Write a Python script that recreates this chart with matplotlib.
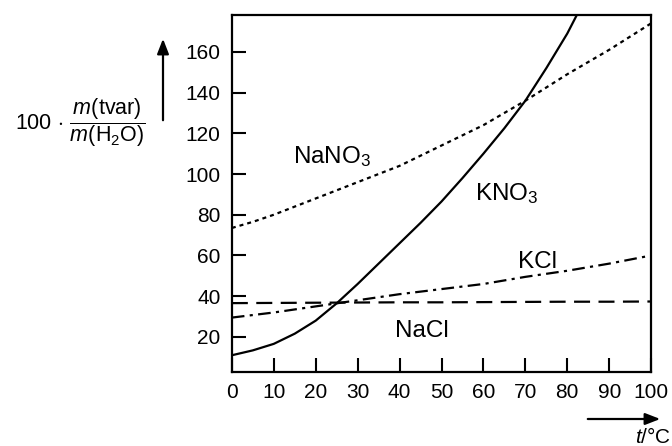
import numpy as np
import matplotlib.pyplot as plt

plt.rcParams['font.family'] = ['Liberation Sans', 'DejaVu Sans']
plt.rcParams['mathtext.fontset'] = 'custom'
plt.rcParams['mathtext.rm'] = 'Liberation Sans'
plt.rcParams['mathtext.it'] = 'Liberation Sans:italic'

# temperature in deg C
t5 = [0, 5, 10, 15, 20, 25, 30, 35, 40, 45, 50, 55, 60, 65, 70, 75, 80, 85, 90, 95, 100]
t10 = [0, 10, 20, 30, 40, 50, 60, 70, 80, 90, 100]

# solubility, g per 100 g water
kno3 = [11, 13.4, 16.6, 21.6, 28, 36.5, 46, 56, 66, 76, 86.5, 98, 110, 122.5, 136, 152, 169, 189, 210, 232, 255]
nano3 = [73.5, 76.5, 80, 84, 88, 92, 96, 100, 104, 109, 114, 119, 124, 130, 136, 142.5, 149, 155, 161, 167.5, 174]
kcl = [29.5, 32, 35, 38, 41, 43.5, 46, 49.5, 52.5, 56, 60]
nacl = [36.6, 36.7, 36.8, 36.9, 37.0, 37.0, 37.1, 37.2, 37.3, 37.3, 37.4]

fig = plt.figure(figsize=(6.72, 4.46), dpi=100)
ax = fig.add_axes([0.345, 0.166, 0.624, 0.800])

ax.plot(t5, kno3, color='black', lw=1.6, solid_joinstyle='round')
ax.plot(t5, nano3, color='black', lw=1.6, linestyle=(0, (1.8, 1.8)))
ax.plot(t10, kcl, color='black', lw=1.6, linestyle=(0, (5.7, 2.4, 1.4, 2.4)))
ax.plot(t10, nacl, color='black', lw=1.6, linestyle=(0, (7.2, 3.8)))

ax.set_xlim(0, 100)
ax.set_ylim(2.8, 178)
ax.set_xticks(np.arange(0, 101, 10))
ax.set_yticks(np.arange(20, 161, 20))
ax.tick_params(direction='in', length=10, width=1.5, labelsize=15, pad=8,
               top=False, right=False)
for s in ax.spines.values():
    s.set_linewidth(1.6)

fs = 17.5
ax.text(14.5, 105.5, 'NaNO$_3$', fontsize=fs)
ax.text(58, 87, 'KNO$_3$', fontsize=fs)
ax.text(68.3, 54, 'KCl', fontsize=fs)
ax.text(38.9, 20, 'NaCl', fontsize=fs)

# axis captions with arrows
fig.text(80 / 672, 1 - 123 / 446,
         r'$\mathrm{100}\,\cdot\,\dfrac{m(\mathrm{tvar})}{m(\mathrm{H_2O})}$',
         fontsize=15.5, ha='center', va='center')
fig.text(671 / 672, 1 - 437 / 446, '$t$/°C', fontsize=15, ha='right', va='center')

arrow = dict(arrowstyle='-|>,head_length=0.9,head_width=0.35', color='black', lw=1.6)
ax.annotate('', xy=(163 / 672, 1 - 36 / 446), xytext=(163 / 672, 1 - 123 / 446),
            xycoords='figure fraction', textcoords='figure fraction', arrowprops=arrow)
ax.annotate('', xy=(663 / 672, 1 - 419 / 446), xytext=(585 / 672, 1 - 419 / 446),
            xycoords='figure fraction', textcoords='figure fraction', arrowprops=arrow)

fig.savefig('out.png', dpi=100)
